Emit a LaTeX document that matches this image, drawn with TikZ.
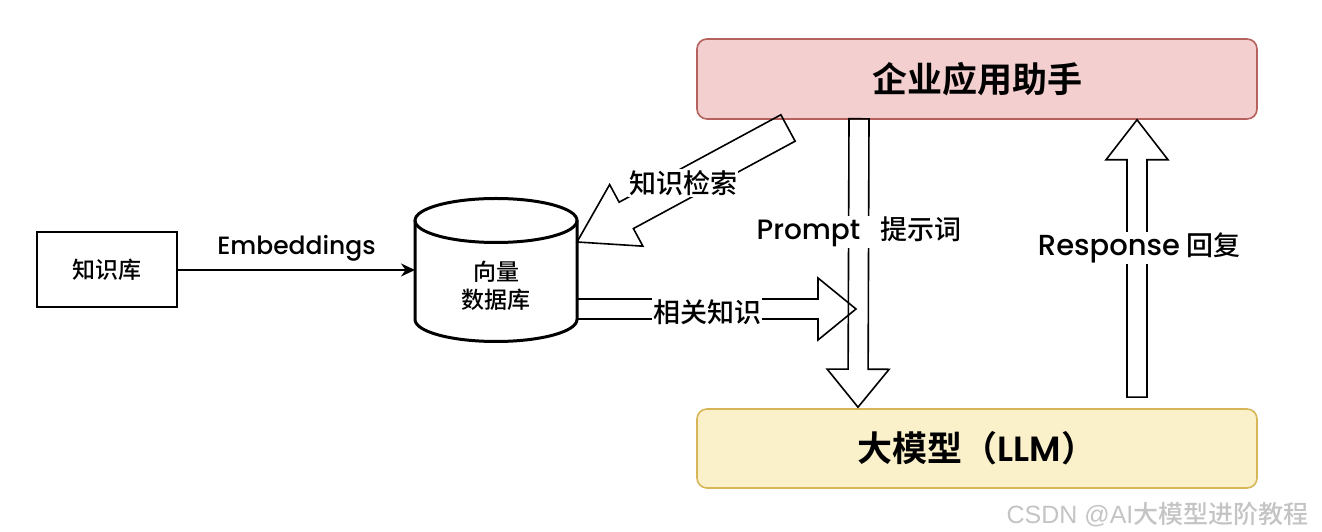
\documentclass[tikz,border=0pt]{standalone}
\usepackage{fontspec}
\setmainfont{Noto Sans CJK SC}[UprightFont=* Medium, BoldFont=* Bold]
\newfontfamily\lat{Poppins}[UprightFont=* Medium, BoldFont=* SemiBold]
\newfontfamily\wmfont{Liberation Sans}
\usetikzlibrary{arrows.meta,calc,positioning}
\definecolor{pinkfill}{HTML}{F4CFCF}
\definecolor{pinkline}{HTML}{B5625E}
\definecolor{yelfill}{HTML}{FAF0CA}
\definecolor{yelline}{HTML}{D6B656}
\definecolor{wmgrey}{HTML}{C4C4C4}
\tikzset{
  box/.style={draw, line width=2pt, minimum width=140pt, minimum height=75pt, font=\fontsize{23}{23}\selectfont},
  cyl/.style={draw, line width=3pt},
  fat/.style={draw, line width=1.6pt, line join=miter},
  lbl/.style={fill=white, inner sep=1pt, font=\fontsize{27}{27}\selectfont},
  title/.style={draw, rounded corners=10pt, line width=1.6pt, minimum width=560pt, minimum height=80pt, font=\fontsize{34}{34}\selectfont\bfseries},
}
% hollow block arrow: tail, tip, half shaft, half head, head length
\newcommand\fatarrow[5]{%
  \coordinate (hb) at ($(#2)!#5!(#1)$);
  \draw[fat] ($(#1)!#3!90:(#2)$) -- ($(hb)!#3!-90:(#1)$) -- ($(hb)!#4!-90:(#1)$) -- (#2)
    -- ($(hb)!#4!90:(#1)$) -- ($(hb)!#3!90:(#1)$) -- ($(#1)!#3!-90:(#2)$) -- cycle;}

\begin{document}
\begin{tikzpicture}[x=1pt,y=1pt,>={Stealth[length=14pt,width=13pt]}]
\useasboundingbox (0,0) rectangle (1322,532);
\node (kb) at (107,262) [box] {知识库};
\node (db) at (496,262) [minimum width=162pt, minimum height=143pt, outer sep=0pt] {};
\node (dbtxt) at (496,246) [align=center, font=\fontsize{23}{28}\selectfont] {向量\\数据库};
\draw[cyl] ($(db.north west)+(0,-22)$) -- ($(db.south west)+(0,22)$)
  arc[start angle=180, end angle=360, x radius=81, y radius=22] -- ($(db.north east)+(0,-22)$);
\draw[cyl] ($(db.north)+(0,-22)$) ellipse [x radius=81, y radius=22];
\draw [->, line width=2pt] (kb) -- (db) node[midway, above=4pt, font=\lat\fontsize{25}{25}\selectfont] {Embeddings};

\node (asst) at (977,453) [title, fill=pinkfill, draw=pinkline] {};
\node (llm) at (977,83.5) [title, fill=yelfill, draw=yelline, minimum height=79pt] {};

\coordinate (q0) at (788,404);
\coordinate (q1) at ($(db.east)+(0,28)$);
\coordinate (p0) at ($(asst.south)+(-118,1)$);
\coordinate (p1) at ($(llm.north)+(-119,1)$);
\coordinate (r0) at ($(llm.north)+(160,11)$);
\coordinate (r1) at ($(asst.south)+(160,0)$);
\coordinate (k0) at ($(db.east)+(0,-39)$);
\coordinate (k1) at (856,223);
\fatarrow{q0}{q1}{15pt}{35pt}{56pt}
\fatarrow{k0}{k1}{10pt}{31pt}{38pt}
\fatarrow{p0}{p1}{10pt}{31pt}{38pt}
\fatarrow{r0}{r1}{10pt}{31pt}{40pt}

\node (asstxt) at (asst) [font=\fontsize{35}{35}\selectfont\bfseries] {企业应用助手};
\node (llmtxt) at (llm) [font=\fontsize{35}{35}\selectfont\bfseries] {大模型（{\lat LLM}）};
\node (qlab) at (683,349) [lbl] {知识检索};
\node (klab) at (707,220) [lbl] {相关知识};
\node (plab) at (859,300) [lbl] {{\lat\fontsize{28}{28}\selectfont Prompt}\hspace{20pt}提示词};
\node (rlab) at (1139,284) [lbl] {{\lat\fontsize{29}{29}\selectfont Response} 回复};
\node (wm) at (1312,17) [anchor=east, text=wmgrey, font=\fontsize{25}{25}\selectfont] {{\wmfont CSDN @AI}大模型进阶教程};
\end{tikzpicture}
\end{document}
